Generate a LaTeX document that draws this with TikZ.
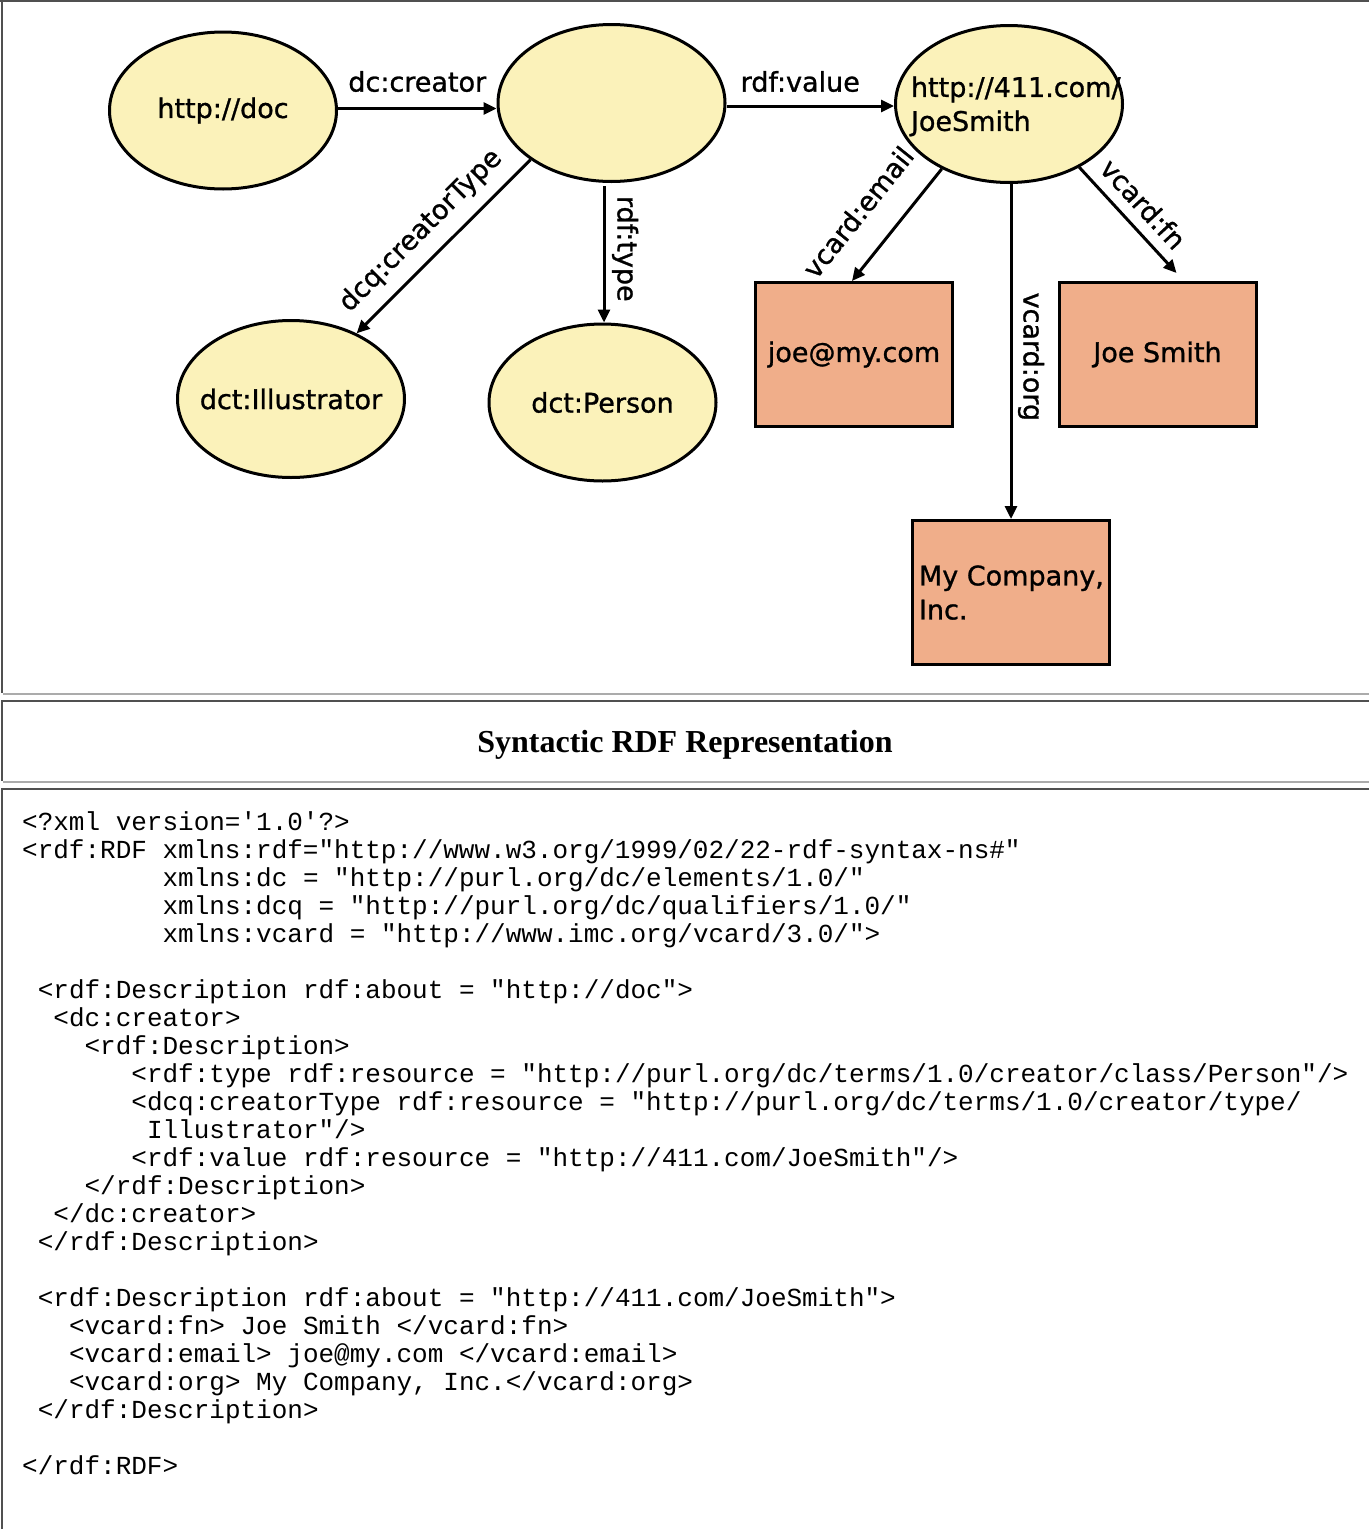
\documentclass[tikz,border=0pt]{standalone}
\usepackage{fontspec}
\newfontfamily\labelfont[FakeBold=1]{DejaVu Sans}
\newfontfamily\titlefont{Liberation Serif}
\setmonofont{Liberation Mono}
\usetikzlibrary{shapes.geometric,arrows.meta}
\definecolor{nodeyellow}{HTML}{FBF2BA}
\definecolor{litsalmon}{HTML}{F0AE8A}
\definecolor{framedark}{HTML}{505050}
\definecolor{framelight}{HTML}{ABABAB}
\newcommand{\leftblock}[2]{\makebox[0pt][l]{\hspace*{-#1}\begin{tabular}{@{}l@{}}\rule{0pt}{30pt}#2\end{tabular}}}
\begin{document}
\begin{tikzpicture}[x=1pt,y=-1pt,
  lblfont/.style={font=\labelfont\fontsize{27}{34}\selectfont},
  res/.style={ellipse, draw=black, line width=3pt, fill=nodeyellow,
    minimum width=227pt, minimum height=157pt, inner sep=0pt, lblfont},
  lit/.style={rectangle, draw=black, line width=3pt, fill=litsalmon,
    minimum width=197pt, minimum height=144pt, inner sep=0pt, lblfont},
  arr/.style={line width=3pt, -{Triangle[length=13pt,width=12pt]}},
  elab/.style={lblfont, inner sep=0pt},
  codeline/.style={anchor=base west, inner sep=0pt, font=\ttfamily\fontsize{26}{28}\selectfont},
]
\useasboundingbox (0,0) rectangle (1369,1529);
\fill[white] (0,0) rectangle (1369,1529);
% frames
\fill[framedark] (0,0) rectangle (1369,2);
\fill[framedark] (1,0) rectangle (3,693);
\fill[framelight] (3,693) rectangle (1369,695);
\fill[framedark] (1,700) rectangle (1369,702);
\fill[framedark] (1,700) rectangle (3,781);
\fill[framelight] (3,781) rectangle (1369,783);
\fill[framedark] (1,788) rectangle (1369,790);
\fill[framedark] (1,788) rectangle (3,1529);

% nodes
\node[res] (doc) at (223,110.5) {http://doc};
\node[res] (blank) at (611.5,103) {};
\node[res] (js) at (1009,104) {\leftblock{98pt}{http://411.com/\\JoeSmith}};
\node[res] (ill) at (291,399) {\makebox[0pt]{dct:Illustrator}};
\node[res] (person) at (602.5,402.5) {dct:Person};
\node[lit] (joe) at (854,354.5) {joe@my.com};
\node[lit] (jsm) at (1157.5,354.5) {Joe Smith};
\node[lit] (myco) at (1011,592.5) {\leftblock{92pt}{My Company,\\Inc.}};

% connectors
\draw[arr] ([yshift=2pt]doc.east) -- ([yshift=2pt]doc.east -| blank.west)
  node[midway, elab, anchor=south, outer sep=16.5pt] (l1) {dc:creator};
\draw[arr] ([yshift=-3pt]blank.east) -- ([yshift=-3pt]blank.east -| js.west)
  node[midway, elab, anchor=south, outer sep=14pt, xshift=-10pt] (l2) {rdf:value};
\draw[arr] (blank.215) -- (ill.45)
  node[pos=0.52, sloped, elab, anchor=south, outer sep=14pt] (l3) {dcq:creatorType};
\draw[arr] ([xshift=-7.5pt,yshift=-3pt]blank.south) -- ([xshift=1.5pt]person.north)
  node[pos=0.46, sloped, elab, anchor=south, outer sep=8pt] (l4) {rdf:type};
\draw[arr] (js.224) -- ([xshift=-2pt]joe.north)
  node[pos=0.6, sloped, elab, anchor=south, outer sep=28pt] (l5) {vcard:email};
\draw[arr] ([xshift=2pt]js.south) -- (myco.north)
  node[pos=0.516, sloped, elab, anchor=south, outer sep=7pt] (l6) {vcard:org};
\draw[arr] (js.318) -- ([xshift=19pt,yshift=8pt]jsm.north)
  node[pos=0.49, sloped, elab, anchor=south, outer sep=12pt] (l7) {vcard:fn};

% title
\node[anchor=base, inner sep=0pt, font=\titlefont\bfseries\fontsize{32}{38}\selectfont] (title) at (685,752) {Syntactic RDF Representation};

% code
\node[codeline] (c0) at (22,830) {<?xml version='1.0'?>};
\node[codeline] (c1) at (22,858) {<rdf:RDF xmlns:rdf="http://www.w3.org/1999/02/22-rdf-syntax-ns\#"};
\node[codeline] (c2) at (162.4,886) {xmlns:dc = "http://purl.org/dc/elements/1.0/"};
\node[codeline] (c3) at (162.4,914) {xmlns:dcq = "http://purl.org/dc/qualifiers/1.0/"};
\node[codeline] (c4) at (162.4,942) {xmlns:vcard = "http://www.imc.org/vcard/3.0/">};
\node[codeline] (c6) at (37.6,998) {<rdf:Description rdf:about = "http://doc">};
\node[codeline] (c7) at (53.2,1026) {<dc:creator>};
\node[codeline] (c8) at (84.4,1054) {<rdf:Description>};
\node[codeline] (c9) at (131.2,1082) {<rdf:type rdf:resource = "http://purl.org/dc/terms/1.0/creator/class/Person"/>};
\node[codeline] (c10) at (131.2,1110) {<dcq:creatorType rdf:resource = "http://purl.org/dc/terms/1.0/creator/type/};
\node[codeline] (c11) at (146.8,1138) {Illustrator"/>};
\node[codeline] (c12) at (131.2,1166) {<rdf:value rdf:resource = "http://411.com/JoeSmith"/>};
\node[codeline] (c13) at (84.4,1194) {</rdf:Description>};
\node[codeline] (c14) at (53.2,1222) {</dc:creator>};
\node[codeline] (c15) at (37.6,1250) {</rdf:Description>};
\node[codeline] (c17) at (37.6,1306) {<rdf:Description rdf:about = "http://411.com/JoeSmith">};
\node[codeline] (c18) at (68.8,1334) {<vcard:fn> Joe Smith </vcard:fn>};
\node[codeline] (c19) at (68.8,1362) {<vcard:email> joe@my.com </vcard:email>};
\node[codeline] (c20) at (68.8,1390) {<vcard:org> My Company, Inc.</vcard:org>};
\node[codeline] (c21) at (37.6,1418) {</rdf:Description>};
\node[codeline] (c23) at (22,1474) {</rdf:RDF>};
\end{tikzpicture}
\end{document}
